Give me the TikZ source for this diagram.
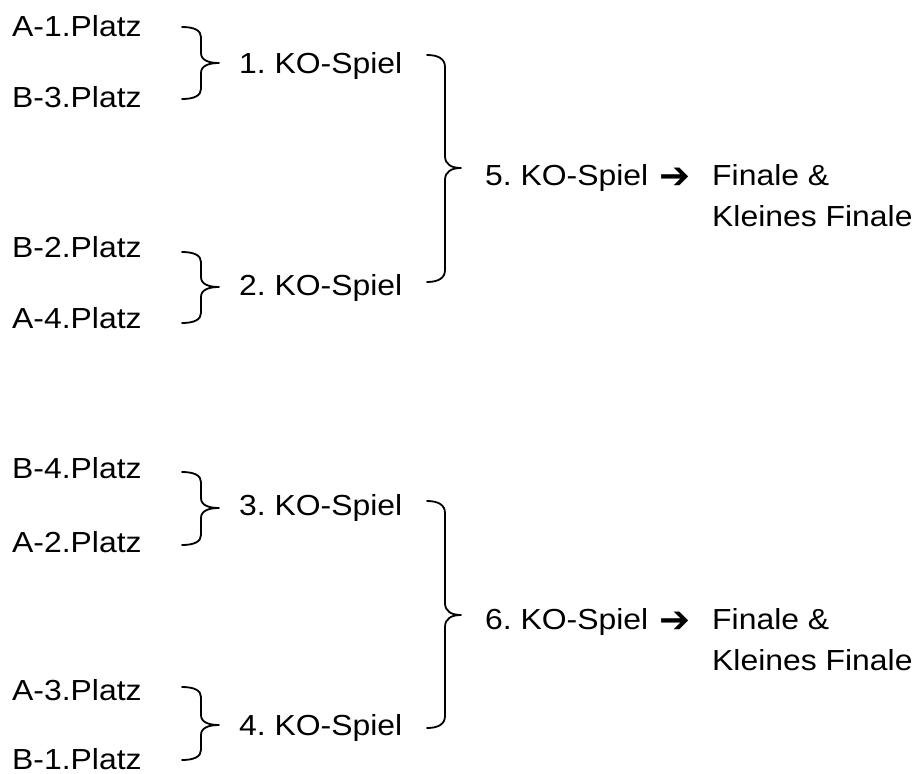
\documentclass[tikz,border=0pt]{standalone}
\usepackage{fontspec}
\setmainfont{Liberation Sans}[FakeStretch=1.1]
\newfontfamily\arrowfont{DejaVu Sans}
\frenchspacing
\newcommand\kbrace[7]{% x0 x1 x2 ytop ymid ybot r
  \draw[bracestyle] (#1,#4) .. controls ({#1+0.65*(#2-#1)},#4) and (#2,{#4+0.35*#7}) .. (#2,{#4+#7})
    -- (#2,{#5-#7}) .. controls (#2,{#5-0.3*#7}) and ({#2+0.4*(#3-#2)},#5) .. (#3,#5)
    .. controls ({#2+0.4*(#3-#2)},#5) and (#2,{#5+0.3*#7}) .. (#2,{#5+#7})
    -- (#2,{#6-#7}) .. controls (#2,{#6-0.35*#7}) and ({#1+0.65*(#2-#1)},#6) .. (#1,#6);}
\begin{document}
\begin{tikzpicture}[x=1pt,y=-1pt,
  lbl/.style={anchor=base west, inner sep=0pt, font=\fontsize{29}{41}\selectfont},
  arr/.style={anchor=base west, inner sep=0pt, font=\arrowfont\fontsize{37}{37}\selectfont},
  bracestyle/.style={line width=1.8pt, line cap=round, line join=round}]
\useasboundingbox (0,0) rectangle (914,774);
% group 1
\node[lbl] (a1) at (12,36) {A-1.Platz};
\node[lbl] (b3) at (12,107) {B-3.Platz};
\node[lbl] (b2) at (12,257) {B-2.Platz};
\node[lbl] (a4) at (12,328) {A-4.Platz};
\node[lbl] (ko1) at (239,73) {1. KO-Spiel};
\node[lbl] (ko2) at (239,295) {2. KO-Spiel};
\node[lbl] (ko5) at (485,185) {5. KO-Spiel};
\node[arr] (ar5) at (659,188) {➔};
\node[lbl, align=left] (fin5) at (712,226) {Finale \&\\Kleines Finale};
\kbrace{182}{201}{219}{27}{63}{99}{10}
\kbrace{182}{201}{219}{252}{287}{323}{10}
\kbrace{427}{445}{461}{55}{168}{282}{12}
% group 2
\node[lbl] (b4) at (12,478) {B-4.Platz};
\node[lbl] (a2) at (12,552) {A-2.Platz};
\node[lbl] (a3) at (12,700) {A-3.Platz};
\node[lbl] (b1) at (12,769) {B-1.Platz};
\node[lbl] (ko3) at (239,515) {3. KO-Spiel};
\node[lbl] (ko4) at (239,735) {4. KO-Spiel};
\node[lbl] (ko6) at (485,629) {6. KO-Spiel};
\node[arr] (ar6) at (659,632) {➔};
\node[lbl, align=left] (fin6) at (712,670) {Finale \&\\Kleines Finale};
\kbrace{182}{201}{219}{472}{508}{545}{10}
\kbrace{182}{201}{219}{687}{725}{760}{10}
\kbrace{427}{445}{461}{501}{615}{728}{12}
\end{tikzpicture}
\end{document}
